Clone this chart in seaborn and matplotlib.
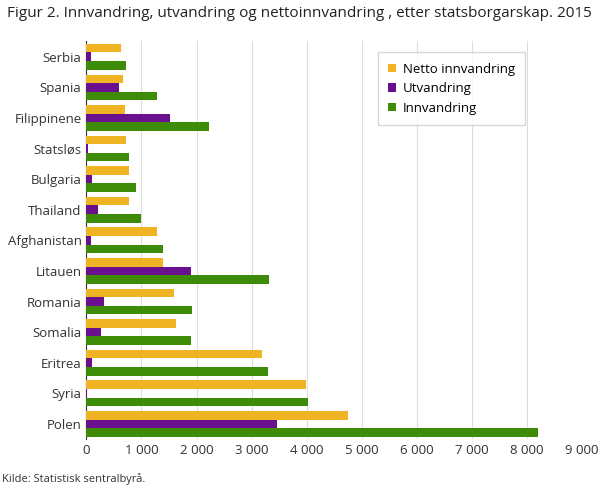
import matplotlib
matplotlib.use("Agg")
import matplotlib.pyplot as plt
import seaborn as sns
import pandas as pd

countries = ["Serbia","Spania","Filippinene","Statsløs","Bulgaria","Thailand","Afghanistan",
             "Litauen","Romania","Somalia","Eritrea","Syria","Polen"]
netto = [636,655,709,727,782,782,1291,1400,1600,1636,3182,3982,4745]
utv = [90,600,1527,36,109,218,90,1909,327,255,109,18,3455]
innv = [727,1273,2236,782,909,1000,1382,3309,1927,1891,3291,4018,8200]
series = ["Netto innvandring","Utvandring","Innvandring"]
colors = ["#efb323","#6a0f8e","#3e8b08"]

rows = []
for c, a, b, d in zip(countries, netto, utv, innv):
    rows += [(c, series[0], a), (c, series[1], b), (c, series[2], d)]
df = pd.DataFrame(rows, columns=["land", "serie", "verdi"])

plt.rcParams["font.family"] = "Open Sans"
fig, ax = plt.subplots(figsize=(6.09, 4.88), dpi=100)
fig.subplots_adjust(left=0.142, right=0.955, top=0.915, bottom=0.1)
sns.barplot(data=df, y="land", x="verdi", hue="serie", order=countries, hue_order=series,
            palette=colors, orient="h", width=0.84, saturation=1, ax=ax, zorder=3)
ax.set_xlim(0, 9000)
ticks = list(range(0, 9001, 1000))
ax.set_xticks(ticks)
ax.set_xticklabels([f"{t:,}".replace(",", " ") for t in ticks], fontsize=9.5, color="#333")
ax.tick_params(axis="y", labelsize=9.5, colors="#333", length=0)
ax.tick_params(axis="x", length=0)
ax.set_xlabel(""); ax.set_ylabel("")
ax.grid(axis="x", color="#dddddd", lw=0.8, zorder=0)
for s in ["top", "right", "bottom"]:
    ax.spines[s].set_visible(False)
ax.spines["left"].set_color("#333")
ax.set_ylim(len(countries) - 0.5, -0.5)
ax.legend(loc="upper right", bbox_to_anchor=(0.9, 0.99), fontsize=9.5, frameon=True,
          fancybox=False, edgecolor="#cccccc", handlelength=0.6, handleheight=0.6,
          borderpad=0.8, labelspacing=0.5, handletextpad=0.5)
fig.text(0.012, 0.965, "Figur 2. Innvandring, utvandring og nettoinnvandring , etter statsborgarskap. 2015",
         fontsize=11, color="#222")
fig.text(0.003, 0.012, "Kilde: Statistisk sentralbyrå.", fontsize=8, color="#333")
fig.savefig("out.png", dpi=100)
